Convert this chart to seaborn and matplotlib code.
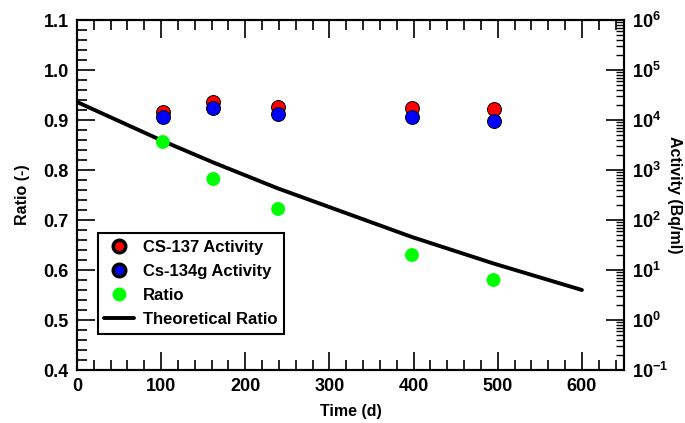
import matplotlib
matplotlib.use("Agg")
import matplotlib.pyplot as plt
import seaborn as sns
import pandas as pd
import numpy as np
from matplotlib.lines import Line2D
from matplotlib.ticker import MultipleLocator, LogLocator, FixedLocator, NullFormatter

# ---- data ----
time_d = [102, 162, 239, 398, 495]
cs137_activity = [14400, 22700, 18200, 17400, 16600]
cs134_activity = [11400, 17400, 13200, 11400, 9400]
ratio = [0.856, 0.782, 0.722, 0.630, 0.580]
theo_time = [0, 102, 162, 239, 398, 495, 600]
theo_ratio = [0.936, 0.858, 0.815, 0.763, 0.666, 0.613, 0.560]

sns.set_style("white")
plt.rcParams['font.family'] = ['Liberation Sans', 'DejaVu Sans']
plt.rcParams['font.weight'] = 'bold'
plt.rcParams['mathtext.fontset'] = 'custom'
plt.rcParams['mathtext.rm'] = 'Liberation Sans:bold'
plt.rcParams['mathtext.it'] = 'Liberation Sans:bold'
plt.rcParams['mathtext.bf'] = 'Liberation Sans:bold'
plt.rcParams['mathtext.default'] = 'rm'
for k in ['text.color', 'axes.labelcolor', 'xtick.color', 'ytick.color', 'axes.edgecolor']:
    plt.rcParams[k] = 'black'

fig = plt.figure(figsize=(6.85, 4.23), dpi=100)
ax = fig.add_axes([77/685, 1-370/423, (624-77)/685, (370-20)/423])
ax2 = ax.twinx()

df_pts = pd.DataFrame({"t": time_d, "cs137": cs137_activity, "cs134": cs134_activity, "ratio": ratio})
df_theo = pd.DataFrame({"t": theo_time, "r": theo_ratio})

sns.lineplot(data=df_theo, x="t", y="r", ax=ax, color="black", linewidth=2.8, zorder=3)
sns.scatterplot(data=df_pts, x="t", y="ratio", ax=ax, color="#00FF00", s=100, edgecolor="none", zorder=4)

ax2.set_yscale("log")
sns.scatterplot(data=df_pts, x="t", y="cs137", ax=ax2, color="#FF0000", s=100, edgecolor="black", linewidth=0.7, zorder=4)
sns.scatterplot(data=df_pts, x="t", y="cs134", ax=ax2, color="#0000FF", s=100, edgecolor="black", linewidth=0.7, zorder=5)

ax.set_xlim(0, 650)
ax.set_ylim(0.4, 1.1)
ax2.set_ylim(1e-1, 1e6)

ax.xaxis.set_major_locator(FixedLocator([0, 100, 200, 300, 400, 500, 600]))
ax.xaxis.set_minor_locator(MultipleLocator(20))
ax.yaxis.set_major_locator(MultipleLocator(0.1))
ax.yaxis.set_minor_locator(MultipleLocator(0.02))
ax.yaxis.set_major_formatter(matplotlib.ticker.FormatStrFormatter('%.1f'))

ax.tick_params(axis='both', which='major', direction='in', length=13, width=1.2,
               top=True, left=True, right=False, bottom=True, labelsize=13, colors='black')
ax.tick_params(axis='both', which='minor', direction='in', length=7, width=1.2,
               top=True, left=True, right=False, bottom=True, colors='black')
ax.tick_params(axis='x', which='major', pad=6)
ax.tick_params(axis='y', which='major', pad=6)

decades = [1e-1, 1e0, 1e1, 1e2, 1e3, 1e4, 1e5, 1e6]
ax2.yaxis.set_major_locator(FixedLocator(decades))
ax2.set_yticklabels([r"$10^{%d}$" % int(np.log10(d)) for d in decades])
ax2.yaxis.set_minor_locator(LogLocator(base=10, subs=np.arange(2, 10), numticks=20))
ax2.yaxis.set_minor_formatter(NullFormatter())
ax2.tick_params(axis='y', which='major', direction='in', length=13, width=1.2, labelsize=13, pad=6, colors='black')
ax2.tick_params(axis='y', which='minor', direction='in', length=6, width=1.0, colors='black')

for a in (ax, ax2):
    for sp in a.spines.values():
        sp.set_linewidth(1.5)
        sp.set_color("black")
    a.grid(False)

ax.set_xlabel("Time (d)", fontsize=11.5, fontweight='bold', labelpad=6, color='black')
ax.set_ylabel("Ratio (-)", fontsize=11.5, fontweight='bold', labelpad=10, color='black')
ax2.set_ylabel("Activity (Bq/ml)", fontsize=11.5, fontweight='bold', rotation=270, labelpad=10, color='black')

handles = [
    Line2D([], [], linestyle='none', marker='o', markerfacecolor='#FF0000', markeredgecolor='black', markeredgewidth=2.5, markersize=9),
    Line2D([], [], linestyle='none', marker='o', markerfacecolor='#0000FF', markeredgecolor='black', markeredgewidth=2.5, markersize=9),
    Line2D([], [], linestyle='none', marker='o', markerfacecolor='#00FF00', markeredgecolor='none', markersize=10),
    Line2D([], [], color='black', linewidth=2.8),
]
labels = ["CS-137 Activity", "Cs-134g Activity", "Ratio", "Theoretical Ratio"]
leg = ax2.legend(handles, labels, loc='upper left', bbox_to_anchor=(0.038, 0.391), borderaxespad=0,
                 frameon=True, fancybox=False, edgecolor='black', framealpha=1,
                 prop={'weight': 'bold', 'size': 12}, handlelength=1.8, handletextpad=0.5,
                 labelspacing=0.55, borderpad=0.4)
leg.get_frame().set_linewidth(1.5)
for t in leg.get_texts():
    t.set_color('black')

fig.savefig("out.png", dpi=100)
